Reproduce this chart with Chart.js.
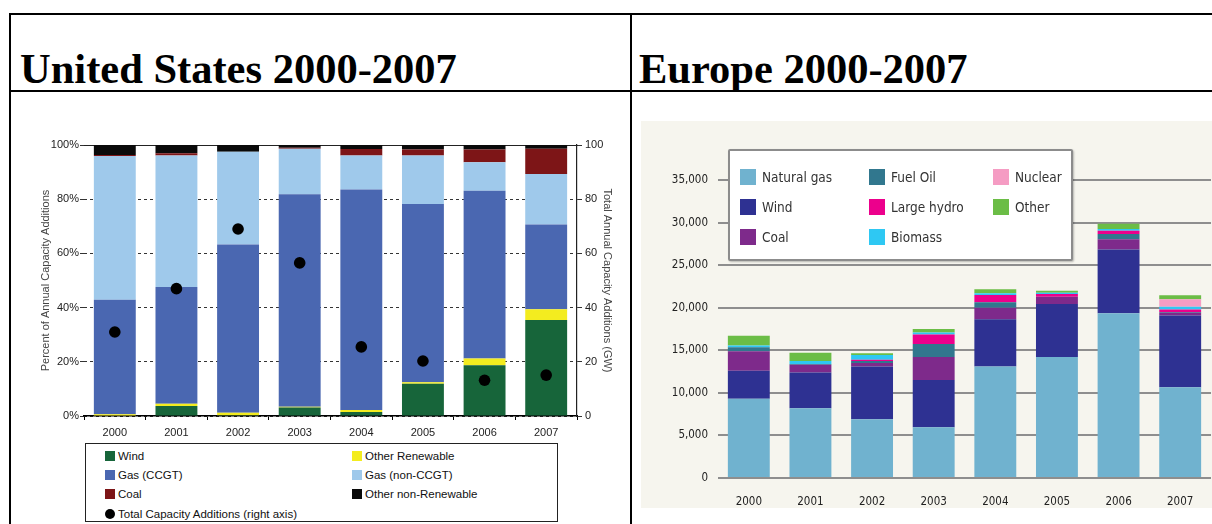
<!DOCTYPE html>
<html>
<head>
<meta charset="utf-8">
<script src="https://cdn.jsdelivr.net/npm/chart.js@4"></script>
<style>
  body { margin:0; background:#fff; }
  #page { position:relative; width:1212px; height:524px; overflow:hidden; }
  .ln { position:absolute; background:#000; }
  .ttl { position:absolute; font-family:'Liberation Serif','Times New Roman',serif; font-weight:bold; font-size:42.5px; line-height:44px; color:#000; white-space:nowrap; }
  #usBox { position:absolute; left:20px; top:135px; width:610px; height:305px; }
  #usLegend { position:absolute; left:85px; top:443px; width:473px; height:79px; border:1.5px solid #222;
    display:grid; grid-template-columns:247px 220px; grid-auto-rows:19.3px; padding:2px 0 0 19px; box-sizing:border-box;
    font-family:'Liberation Sans',Arial,sans-serif; font-size:11.5px; color:#111; }
  #usLegend div { display:flex; align-items:center; }
  #usLegend span.sw { display:inline-block; width:10px; height:10px; margin-right:3px; }
  #euBg { position:absolute; left:641px; top:121px; width:571px; height:387px; background:#f6f5ee; }
  #euBox { position:absolute; left:641px; top:121px; width:571px; height:387px; }
  #euLegend { position:absolute; left:728px; top:149px; width:345px; height:112px; background:#fff; border:2px solid #8c8c8c; border-radius:2px;
    box-shadow:1px 1px 2px rgba(0,0,0,0.25); box-sizing:border-box;
    display:grid; grid-template-rows:31px 30px 30px; grid-template-columns:129px 124px 90px; grid-auto-flow:column; padding:10px 0 0 10px;
    font-family:'DejaVu Sans Condensed','Liberation Sans Narrow',sans-serif; font-size:13.5px; color:#333; }
  #euLegend div { display:flex; align-items:center; }
  #euLegend span.sw { display:inline-block; width:16px; height:16px; margin-right:6px; }
</style>
</head>
<body>
<div id="page">
  <div class="ln" style="left:9px; top:13px; width:1203px; height:2px;"></div>
  <div class="ln" style="left:9px; top:90px; width:1203px; height:2px;"></div>
  <div class="ln" style="left:9px; top:13px; width:2px; height:511px;"></div>
  <div class="ln" style="left:630px; top:13px; width:2px; height:511px;"></div>
  <div class="ttl" style="left:20px; top:47px;">United States 2000-2007</div>
  <div class="ttl" style="left:639px; top:47px;">Europe 2000-2007</div>

  <div id="usBox"><canvas id="usChart"></canvas></div>
  <div id="usLegend"></div>

  <div id="euBg"></div>
  <div id="euBox"><canvas id="euChart"></canvas></div>
  <div id="euLegend"></div>
</div>
<script>
// years on both charts
const years = ['2000', '2001', '2002', '2003', '2004', '2005', '2006', '2007'];

// US: percent of annual capacity additions
const usWind        = [0.0, 3.7, 0.3, 3.1, 1.5, 11.9, 18.7, 35.4];
const usOtherRen    = [0.6, 0.8, 0.9, 0.3, 0.7, 0.6, 2.5, 4.0];
const usGasCCGT     = [42.3, 43.1, 62.1, 78.4, 81.4, 65.7, 61.9, 31.3];
const usGasNonCCGT  = [53.0, 48.5, 34.2, 16.8, 12.5, 17.9, 10.5, 18.6];
const usCoal        = [0.4, 0.9, 0.0, 0.4, 2.4, 2.2, 4.7, 9.3];
const usOtherNonRen = [3.7, 3.0, 2.5, 1.0, 1.5, 1.7, 1.7, 1.4];
// US: total capacity additions, GW (right axis)
const usTotalGW     = [31, 47, 69, 56.5, 25.5, 20.3, 13.2, 15.1];

// Europe: capacity additions, MW
const euGas     = [9300, 8200, 6900, 5950, 13100, 14200, 19350, 10650];
const euWind    = [3300, 4200, 6200, 5550, 5550, 6250, 7500, 8450];
const euCoal    = [2300, 900, 400, 2700, 1350, 850, 1200, 300];
const euFuelOil = [450, 100, 250, 1550, 650, 0, 600, 100];
const euHydro   = [0, 0, 150, 1100, 850, 300, 400, 300];
const euBiomass = [200, 350, 550, 250, 200, 150, 200, 300];
const euNuclear = [0, 0, 0, 0, 0, 0, 0, 900];
const euOther   = [1150, 950, 200, 400, 470, 250, 600, 450];

const sans = "'Liberation Sans', Arial, sans-serif";
const narrow = "'DejaVu Sans Condensed', 'Liberation Sans Narrow', sans-serif";

function bar(label, data, color) {
  return { type: 'bar', label, data, backgroundColor: color, borderWidth: 0,
           stack: 'main', yAxisID: 'y', barPercentage: 0.68, categoryPercentage: 1 };
}

// ---------- US ----------
const usSets = [
  bar('Wind', usWind, '#17653a'),
  bar('Other Renewable', usOtherRen, '#f3ec1f'),
  bar('Gas (CCGT)', usGasCCGT, '#4a67b1'),
  bar('Gas (non-CCGT)', usGasNonCCGT, '#9fc9eb'),
  bar('Coal', usCoal, '#7d1517'),
  bar('Other non-Renewable', usOtherNonRen, '#0a0a0a'),
  { type: 'line', label: 'Total Capacity Additions (right axis)', data: usTotalGW, yAxisID: 'y2',
    stack: 'dots', showLine: false, pointRadius: 5.8, pointBackgroundColor: '#000', pointBorderWidth: 0,
    borderColor: '#000', order: -1 }
];

new Chart(document.getElementById('usChart'), {
  data: { labels: years, datasets: usSets },
  options: {
    responsive: true, maintainAspectRatio: false, animation: false,
    layout: { padding: { top: 10, left: 0, right: 0, bottom: 0 } },
    plugins: { legend: { display: false }, tooltip: { enabled: false } },
    scales: {
      x: {
        stacked: true,
        grid: { offset: true, drawOnChartArea: false, drawTicks: true, tickLength: 4, color: '#000' },
        border: { display: true, color: '#000', width: 1.5 },
        ticks: { padding: 6, color: '#222', font: { family: sans, size: 11 } },
        afterFit: s => { s.height = 24; }
      },
      xTop: {
        position: 'top', type: 'category', labels: years,
        grid: { display: false }, ticks: { display: false },
        border: { display: true, color: '#222', width: 1 },
        afterFit: s => { s.height = 0; }
      },
      y: {
        stacked: true, min: 0, max: 100,
        ticks: { stepSize: 20, padding: 1, color: '#222', font: { family: sans, size: 11 }, callback: v => v + '%' },
        grid: { color: '#333', lineWidth: 1, tickLength: 4 },
        border: { display: false, dash: [3, 3] },
        title: { display: true, text: 'Percent of Annual Capacity Additions', color: '#444',
                 font: { family: sans, size: 11 }, padding: { top: 19, bottom: 0 } },
        afterFit: s => { s.width = 64; }
      },
      y2: {
        position: 'right', min: 0, max: 100,
        ticks: { stepSize: 20, padding: 3, color: '#222', font: { family: sans, size: 11 } },
        grid: { drawOnChartArea: false, color: '#333', tickLength: 5 },
        border: { display: true, color: '#222', width: 1.2, dash: [3, 2] },
        title: { display: true, text: 'Total Annual Capacity Additions (GW)', color: '#444',
                 font: { family: sans, size: 11 }, padding: { top: 16, bottom: 0 } },
        afterFit: s => { s.width = 53; }
      }
    }
  }
});

// US legend, row-major in two columns
const usLeg = document.getElementById('usLegend');
usSets.forEach(d => {
  const item = document.createElement('div');
  const sw = document.createElement('span');
  sw.className = 'sw';
  if (d.type === 'line') { sw.style.background = '#000'; sw.style.borderRadius = '50%'; }
  else sw.style.background = d.backgroundColor;
  item.appendChild(sw);
  item.appendChild(document.createTextNode(d.label));
  usLeg.appendChild(item);
});

// ---------- Europe ----------
const euSets = [
  bar('Natural gas', euGas, '#70b2cf'),
  bar('Wind', euWind, '#2e3192'),
  bar('Coal', euCoal, '#7e2a8b'),
  bar('Fuel Oil', euFuelOil, '#31778e'),
  bar('Large hydro', euHydro, '#ec008c'),
  bar('Biomass', euBiomass, '#2ec8f3'),
  bar('Nuclear', euNuclear, '#f59cc3'),
  bar('Other', euOther, '#6bbd46')
];

new Chart(document.getElementById('euChart'), {
  type: 'bar',
  data: { labels: years, datasets: euSets },
  options: {
    responsive: true, maintainAspectRatio: false, animation: false,
    layout: { padding: { top: 59, left: 0, right: 1, bottom: 0 } },
    plugins: { legend: { display: false }, tooltip: { enabled: false } },
    scales: {
      x: {
        stacked: true,
        grid: { display: false },
        border: { display: false },
        ticks: { padding: 9, color: '#222', font: { family: narrow, size: 11.5 } },
        afterFit: s => { s.height = 30; }
      },
      y: {
        stacked: true, min: 0, max: 35000,
        ticks: { stepSize: 5000, padding: 10, color: '#222', font: { family: narrow, size: 11.5 },
                 callback: v => v.toLocaleString('en-US') },
        grid: { color: '#8e8e8e', lineWidth: 2, drawTicks: false },
        border: { display: false },
        afterFit: s => { s.width = 77; }
      }
    }
  }
});

// Europe legend, column-major in three rows
const euLeg = document.getElementById('euLegend');
euSets.forEach(d => {
  const item = document.createElement('div');
  const sw = document.createElement('span');
  sw.className = 'sw';
  sw.style.background = d.backgroundColor;
  item.appendChild(sw);
  item.appendChild(document.createTextNode(d.label));
  euLeg.appendChild(item);
});
</script>
</body>
</html>
